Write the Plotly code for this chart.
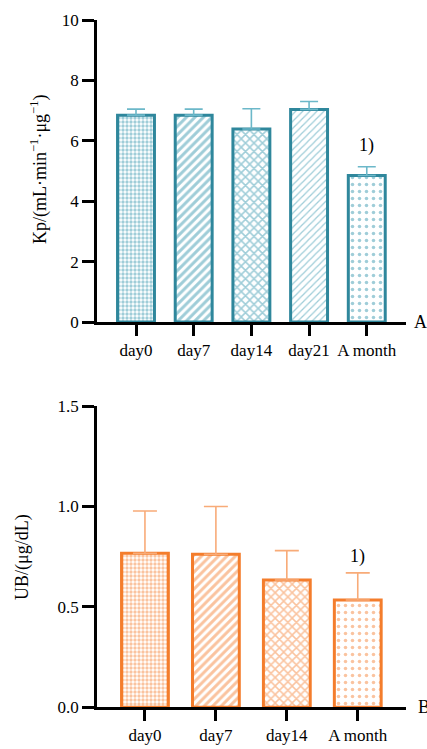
import plotly.graph_objects as go

# ---- data ----
cats_a = ["day0", "day7", "day14", "day21", "A month"]
kp_mean = [6.85, 6.85, 6.39, 7.04, 4.85]
kp_err = [0.20, 0.20, 0.67, 0.26, 0.29]

cats_b = ["day0", "day7", "day14", "A month"]
ub_mean = [0.767, 0.762, 0.634, 0.534]
ub_err = [0.210, 0.238, 0.146, 0.135]

patterns_a = [".", "/", "x", "/", "."]
patterns_b = [".", "/", "x", "."]

TEAL = "#2f879c"
TEAL_FG = "#3f9bb1"
TEAL_ERR = "#6cb8c9"
ORANGE = "#f47d2c"
ORANGE_FG = "#f5883f"
ORANGE_ERR = "#f8ab78"

FONT = "Liberation Serif"
W, H = 427, 749


def px(xr):
    return xr / W


def py(yr):
    return 1 - yr / H


fig = go.Figure()

fig.add_trace(go.Bar(
    x=list(range(len(cats_a))), y=kp_mean, width=0.64,
    marker=dict(color="white", line=dict(color=TEAL, width=3),
                pattern=dict(shape=patterns_a, fgcolor=TEAL_FG, bgcolor="white",
                             size=[4, 6, 6, 5, 7], solidity=[0.55, 0.5, 0.45, 0.25, 0.2],
                             fillmode="overlay")),
    error_y=dict(type="data", array=kp_err, arrayminus=[0]*len(kp_err), symmetric=False,
                 color=TEAL_ERR, thickness=1.6, width=9),
    xaxis="x", yaxis="y", showlegend=False))

fig.add_trace(go.Bar(
    x=list(range(len(cats_b))), y=ub_mean, width=0.66,
    marker=dict(color="white", line=dict(color=ORANGE, width=3),
                pattern=dict(shape=patterns_b, fgcolor=ORANGE_FG, bgcolor="white",
                             size=[4, 6, 6, 7], solidity=[0.55, 0.5, 0.45, 0.2],
                             fillmode="overlay")),
    error_y=dict(type="data", array=ub_err, arrayminus=[0]*len(ub_err), symmetric=False,
                 color=ORANGE_ERR, thickness=1.6, width=12),
    xaxis="x2", yaxis="y2", showlegend=False))

xd = [px(97), px(406)]
axis_common = dict(showline=True, linecolor="black", linewidth=2.5, ticks="outside",
                   tickwidth=2.5, tickcolor="black", showgrid=False, zeroline=False,
                   automargin=False,
                   tickfont=dict(family=FONT, size=17, color="black"))

fig.update_layout(
    width=W, height=H, margin=dict(l=0, r=0, t=0, b=0, pad=0, autoexpand=False),
    plot_bgcolor="white", paper_bgcolor="white",
    font=dict(family=FONT, color="black"),
    xaxis=dict(domain=xd, range=[-0.676, 4.68], tickmode="array",
               tickvals=list(range(len(cats_a))), ticktext=cats_a, ticklen=11,
               anchor="y", **axis_common),
    yaxis=dict(domain=[py(322), py(20)], range=[0, 10], dtick=2, ticklen=12,
               anchor="x", **axis_common),
    xaxis2=dict(domain=xd, range=[-0.676, 3.68], tickmode="array",
                tickvals=list(range(len(cats_b))), ticktext=cats_b, ticklen=11,
                anchor="y2", **axis_common),
    yaxis2=dict(domain=[py(707.3), py(406)], range=[0, 1.5], dtick=0.5,
                tickformat=".1f", ticklen=12, anchor="x2", **axis_common),
)

ann_font = dict(family=FONT, size=18, color="black")
fig.add_annotation(x=4, y=5.84, xref="x", yref="y", text="1)", showarrow=False,
                   xanchor="center", yanchor="middle", font=ann_font)
fig.add_annotation(x=3, y=0.75, xref="x2", yref="y2", text="1)", showarrow=False,
                   xanchor="center", yanchor="middle", font=ann_font)
fig.add_annotation(x=px(412), y=0, xref="paper", yref="y", text="A", showarrow=False,
                   xanchor="left", yanchor="middle", font=ann_font)
fig.add_annotation(x=px(416), y=0, xref="paper", yref="y2", text="B", showarrow=False,
                   xanchor="left", yanchor="middle", font=ann_font)
fig.add_annotation(x=px(39), y=py(170), xref="paper", yref="paper",
                   text="Kp/(mL·min<sup>−1</sup>·μg<sup>−1</sup>)", textangle=-90,
                   xanchor="center", yanchor="middle",
                   showarrow=False, font=dict(family=FONT, size=18, color="black"))
fig.add_annotation(x=px(22), y=py(557), xref="paper", yref="paper",
                   text="UB/(μg/dL)", textangle=-90,
                   xanchor="center", yanchor="middle",
                   showarrow=False, font=dict(family=FONT, size=18, color="black"))

fig.write_html(
    "out.html",
    config={"displayModeBar": False},
    post_script="document.body.style.margin='0';document.body.style.overflow='hidden';",
)
